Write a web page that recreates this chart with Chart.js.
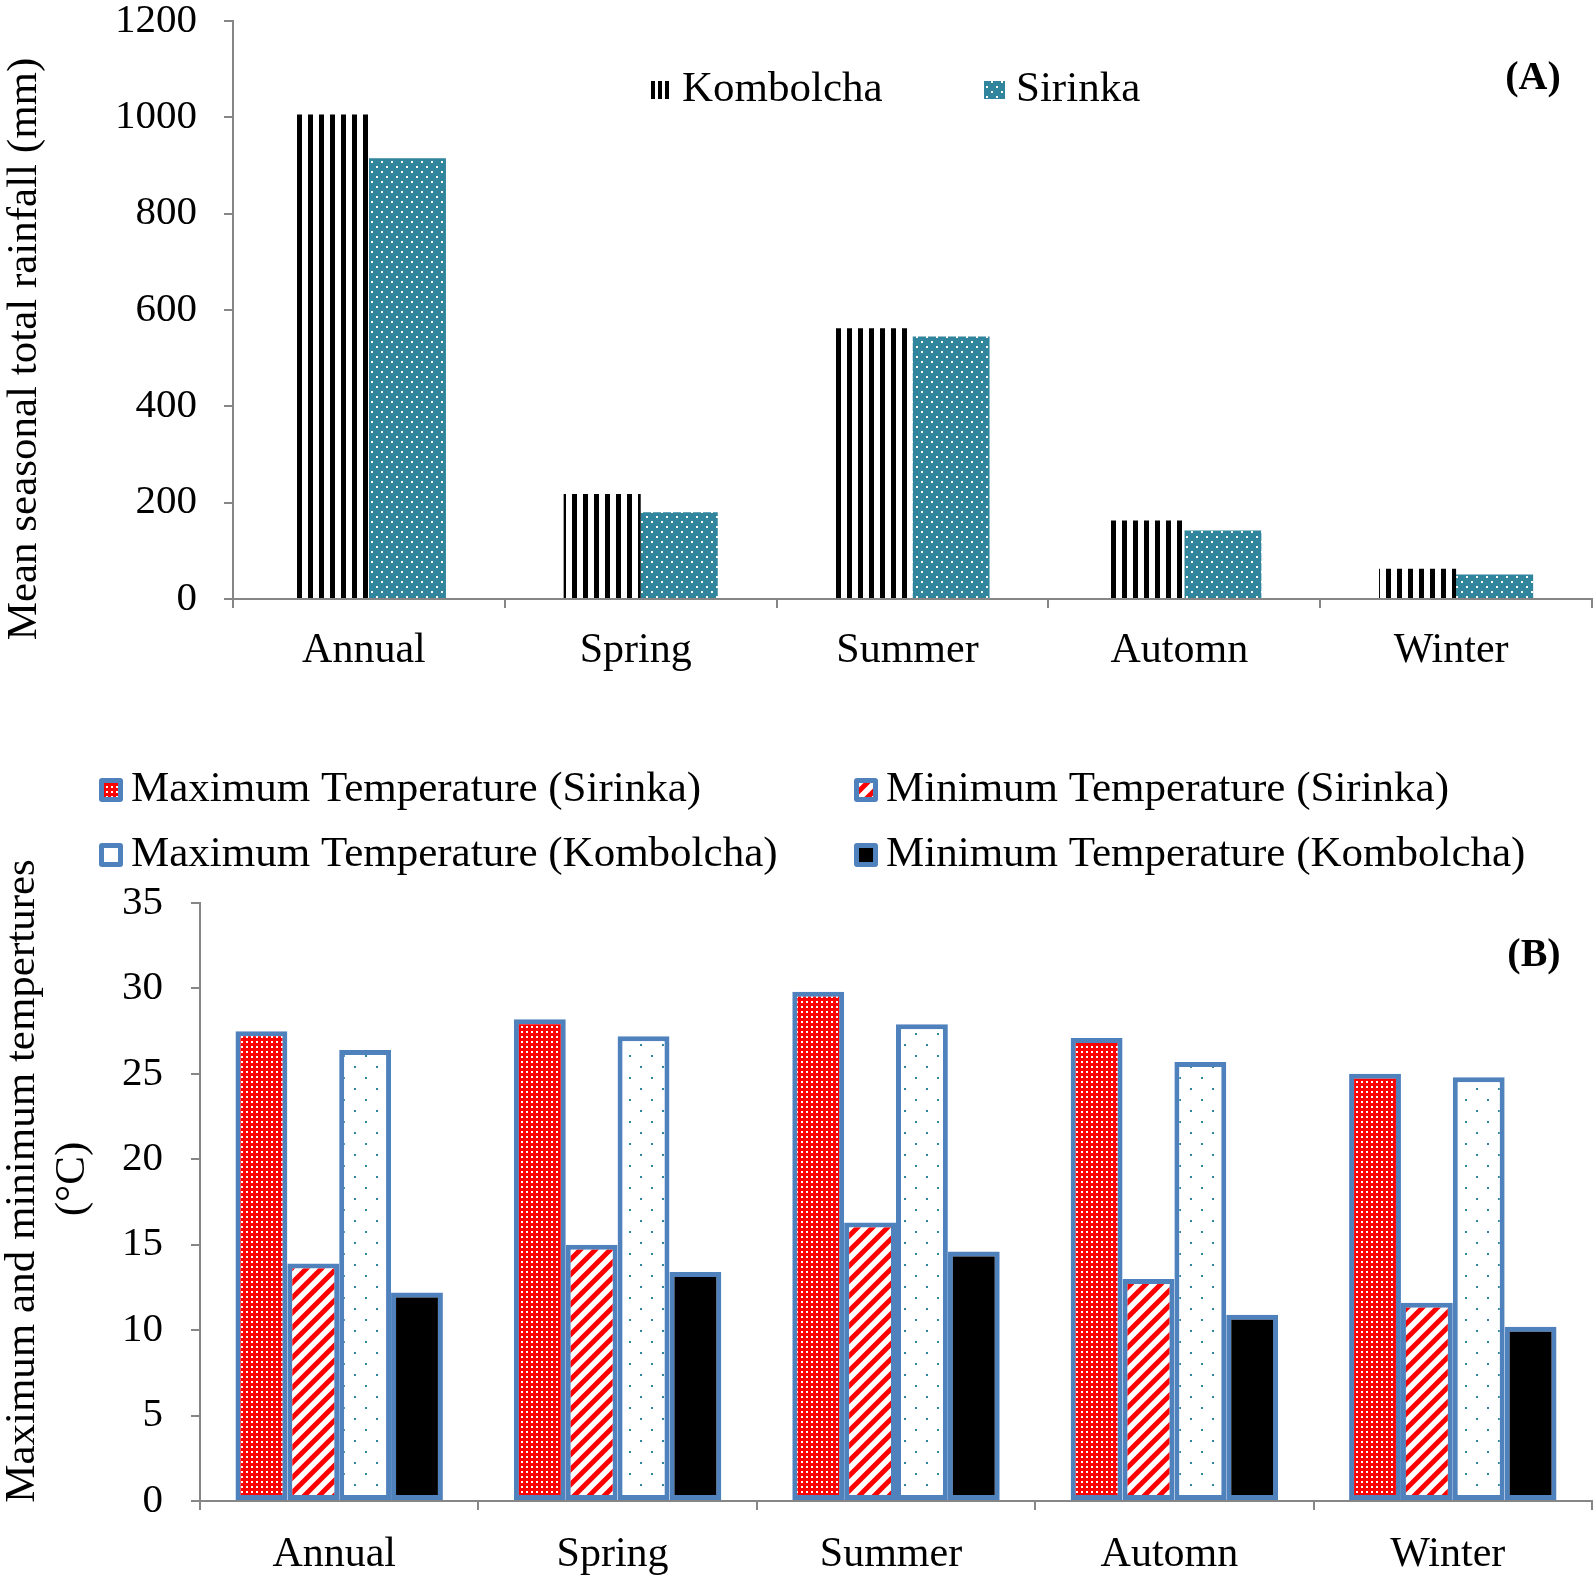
<!DOCTYPE html>
<html>
<head>
<meta charset="utf-8">
<title>Seasonal rainfall and temperature</title>
<script src="https://cdn.jsdelivr.net/npm/chart.js@4.4.1/dist/chart.umd.min.js"></script>
<style>
  html, body { margin: 0; padding: 0; background: #fff; }
  #wrap { position: relative; width: 1594px; height: 1578px; }
  #rainBox { position: absolute; left: 0; top: 0; width: 1594px; height: 690px; }
  #tempBox { position: absolute; left: 0; top: 690px; width: 1594px; height: 888px; }
</style>
</head>
<body>
<div id="wrap">
  <div id="rainBox"><canvas id="rainChart"></canvas></div>
  <div id="tempBox"><canvas id="tempChart"></canvas></div>
</div>
<script>
/* ── data ── */

const categories = ['Annual', 'Spring', 'Summer', 'Automn', 'Winter'];

// (A) mean seasonal total rainfall, mm
const rainTicks = [0, 200, 400, 600, 800, 1000, 1200];
const rainKombolcha = [1006, 218, 562, 163, 63];
const rainSirinka = [915, 180, 545, 142, 51];

// (B) max / min temperature, °C
const tempTicks = [0, 5, 10, 15, 20, 25, 30, 35];
const tmaxSirinka = [27.5, 28.2, 29.8, 27.1, 25.0];
const tminSirinka = [13.9, 15.0, 16.3, 13.0, 11.6];
const tmaxKombolcha = [26.4, 27.2, 27.9, 25.7, 24.8];
const tminKombolcha = [12.2, 13.4, 14.6, 10.9, 10.2];

const SERIF = '"Liberation Serif", "Times New Roman", serif';
const AXIS = '#868686';
const TEAL = '#31859c';
const BLUE = '#4f81bd';

// ── fill patterns ──

function makePattern(w, h, draw) {
  const c = document.createElement('canvas');
  c.width = w; c.height = h;
  const g = c.getContext('2d');
  draw(g, w, h);
  return g.createPattern(c, 'repeat');
}

const stripesBlack = makePattern(11, 10, (g, w, h) => {
  g.fillStyle = '#fff'; g.fillRect(0, 0, w, h);
  g.fillStyle = '#000'; g.fillRect(0, 0, 5, h);
});
// narrower stripes for the little legend key
const stripesKey = makePattern(7, 10, (g, w, h) => {
  g.fillStyle = '#fff'; g.fillRect(0, 0, w, h);
  g.fillStyle = '#000'; g.fillRect(0, 0, 4, h);
});
const tealDots = makePattern(10, 10, (g, w, h) => {
  g.fillStyle = TEAL; g.fillRect(0, 0, w, h);
  g.fillStyle = '#fff';
  g.fillRect(1, 1, 2, 2);
  g.fillRect(6, 6, 2, 2);
});
const redDots = makePattern(5, 5, (g, w, h) => {
  g.fillStyle = '#ff0000'; g.fillRect(0, 0, w, h);
  g.fillStyle = '#fff'; g.fillRect(1, 1, 2, 2);
});
const redHatch = makePattern(15, 15, (g, w, h) => {
  g.fillStyle = '#fff'; g.fillRect(0, 0, w, h);
  g.strokeStyle = '#ff0000'; g.lineWidth = 5;
  g.beginPath();
  g.moveTo(-2, h + 2); g.lineTo(w + 2, -2);
  g.moveTo(-2, 2); g.lineTo(2, -2);
  g.moveTo(w - 2, h + 2); g.lineTo(w + 2, h - 2);
  g.stroke();
});
const sparseTeal = makePattern(22, 22, (g, w, h) => {
  g.fillStyle = '#fff'; g.fillRect(0, 0, w, h);
  g.fillStyle = TEAL;
  g.fillRect(2, 2, 2, 2);
  g.fillRect(13, 13, 2, 2);
});

// ── text / legend plugin (one per chart, config kept out of chart options) ──

function panelText(cfg) {
  return {
    id: 'panelText',
    afterDraw(chart) {
      const ctx = chart.ctx;
      ctx.save();
      ctx.fillStyle = '#000';
      ctx.textBaseline = 'middle';

      cfg.yTitle.forEach(t => {
        ctx.save();
        ctx.translate(t.x, t.y);
        ctx.rotate(-Math.PI / 2);
        ctx.textAlign = 'center';
        ctx.font = `43px ${SERIF}`;
        ctx.fillText(t.text, 0, 0);
        ctx.restore();
      });

      ctx.textAlign = 'center';
      ctx.font = `bold 40px ${SERIF}`;
      ctx.fillText(cfg.tag.text, cfg.tag.x, cfg.tag.y);

      cfg.legend.forEach(it => {
        const ds = chart.data.datasets[it.ds];
        const s = it.box;
        if (it.framed) {
          ctx.fillStyle = BLUE;
          ctx.beginPath();
          ctx.roundRect(s[0], s[1], s[2], s[3], 3);
          ctx.fill();
          ctx.fillStyle = ds.backgroundColor;
          ctx.fillRect(s[0] + 5, s[1] + 5, s[2] - 10, s[3] - 10);
        } else {
          ctx.fillStyle = it.keyFill ? it.keyFill : ds.backgroundColor;
          ctx.fillRect(s[0], s[1], s[2], s[3]);
        }
        ctx.fillStyle = '#000';
        ctx.textAlign = 'left';
        ctx.font = `43px ${SERIF}`;
        ctx.fillText(ds.label, it.tx, it.ty);
      });
      ctx.restore();
    }
  };
}

// ── shared axis builders ──

function xAxis(height, padding) {
  return {
    offset: true,
    grid: { drawOnChartArea: false, offset: true, color: AXIS, lineWidth: 2, tickLength: 9 },
    border: { color: AXIS, width: 2 },
    ticks: { color: '#000', font: { family: SERIF, size: 42, lineHeight: 1 },
             padding: padding, labelOffset: -5 },
    afterFit(s) { s.height = height; s.paddingLeft = 0; s.paddingRight = 0; }
  };
}

function yAxis(width, max, ticks, padding) {
  return {
    min: 0, max: max,
    afterBuildTicks(s) { s.ticks = ticks.map(v => ({ value: v })); },
    grid: { drawOnChartArea: false, color: AXIS, lineWidth: 2, tickLength: 9 },
    border: { color: AXIS, width: 2 },
    ticks: { color: '#000', padding: padding,
             font: { family: SERIF, size: 41, lineHeight: 1 },
             callback: v => String(v) },
    afterFit(s) { s.width = width; s.paddingTop = 0; s.paddingBottom = 0; }
  };
}

// ── (A) rainfall ──

new Chart(document.getElementById('rainChart'), {
  type: 'bar',
  data: {
    labels: categories,
    datasets: [
      { label: 'Kombolcha', data: rainKombolcha, backgroundColor: stripesBlack },
      { label: 'Sirinka', data: rainSirinka, backgroundColor: tealDots }
    ]
  },
  options: {
    responsive: true,
    maintainAspectRatio: false,
    animation: false,
    events: [],
    datasets: { bar: { categoryPercentage: 0.567, barPercentage: 1 } },
    layout: { padding: { top: 21, right: 2, left: 0, bottom: 0 } },
    scales: {
      x: xAxis(91, 22),
      y: yAxis(233, 1200, rainTicks, 27)
    },
    plugins: {
      legend: { display: false },
      tooltip: { enabled: false }
    }
  },
  plugins: [panelText({
    yTitle: [{ text: 'Mean seasonal total rainfall (mm)', x: 25, y: 349 }],
    tag: { text: '(A)', x: 1533, y: 79 },
    legend: [
      { ds: 0, box: [651, 81, 19, 18], tx: 682, ty: 90, keyFill: stripesKey },
      { ds: 1, box: [984, 81, 21, 18], tx: 1016, ty: 90 }
    ]
  })]
});

// ── (B) temperature ──

const framed = { borderColor: BLUE, borderWidth: 5, borderSkipped: false };

new Chart(document.getElementById('tempChart'), {
  type: 'bar',
  data: {
    labels: categories,
    datasets: [
      { label: 'Maximum Temperature (Sirinka)', data: tmaxSirinka, backgroundColor: redDots, ...framed },
      { label: 'Minimum Temperature (Sirinka)', data: tminSirinka, backgroundColor: redHatch, ...framed },
      { label: 'Maximum Temperature (Kombolcha)', data: tmaxKombolcha, backgroundColor: sparseTeal, ...framed },
      { label: 'Minimum Temperature (Kombolcha)', data: tminKombolcha, backgroundColor: '#000', ...framed }
    ]
  },
  options: {
    responsive: true,
    maintainAspectRatio: false,
    animation: false,
    events: [],
    datasets: { bar: { categoryPercentage: 0.745, barPercentage: 1 } },
    layout: { padding: { top: 213, right: 2, left: 0, bottom: 0 } },
    scales: {
      x: xAxis(77, 24),
      y: yAxis(200, 35, tempTicks, 28)
    },
    plugins: {
      legend: { display: false },
      tooltip: { enabled: false }
    }
  },
  plugins: [panelText({
    yTitle: [
      { text: 'Maximum and minimum tempertures', x: 23, y: 491 },
      { text: '(°C)', x: 73, y: 489 }
    ],
    tag: { text: '(B)', x: 1534, y: 266 },
    legend: [
      { ds: 0, box: [99, 88, 24, 24], tx: 131, ty: 100, framed: true },
      { ds: 1, box: [854, 88, 24, 24], tx: 886, ty: 100, framed: true },
      { ds: 2, box: [99, 153, 24, 24], tx: 131, ty: 165, framed: true },
      { ds: 3, box: [854, 153, 24, 24], tx: 886, ty: 165, framed: true }
    ]
  })]
});
</script>
</body>
</html>
